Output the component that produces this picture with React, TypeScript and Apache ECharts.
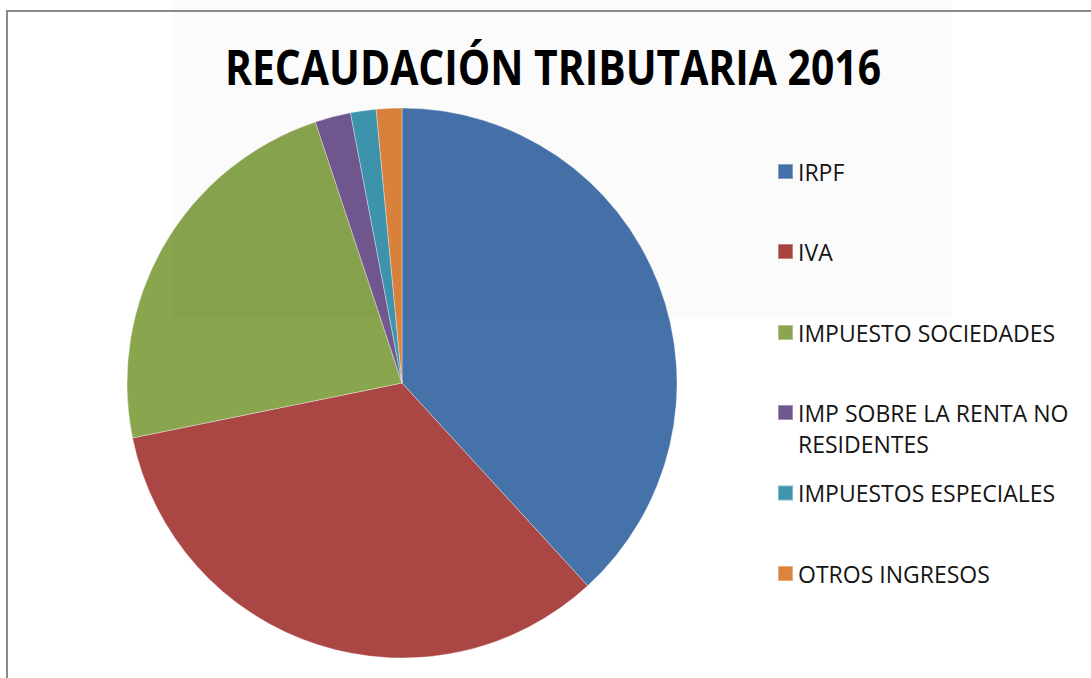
import { useEffect, useRef } from "react";
import * as echarts from "echarts";

const titleText = "RECAUDACIÓN TRIBUTARIA 2016";
const categories = [
  "IRPF",
  "IVA",
  "IMPUESTO SOCIEDADES",
  "IMP SOBRE LA RENTA NO RESIDENTES",
  "IMPUESTOS ESPECIALES",
  "OTROS INGRESOS",
];
const values = [38.2, 33.6, 23.1, 2.1, 1.5, 1.5];
const colors = ["#4672AA", "#AA4644", "#89A54E", "#71588F", "#3D96AE", "#DB843D"];

// layout (legend row centres, px)
const legendRowY = [171.5, 251.5, 332.5, 412.5, 493, 573.5];
const MULTI = "IMP SOBRE LA RENTA NO RESIDENTES";

function measure(text: string, font: string): number {
  const c = document.createElement("canvas").getContext("2d");
  if (!c) return 1;
  c.font = font;
  return c.measureText(text).width;
}

export default function App() {
  const ref = useRef<HTMLDivElement>(null);
  useEffect(() => {
    if (!ref.current) return;
    const chart = echarts.init(ref.current, null, { renderer: "svg" });
    const titleFont = 'bold 48px "Open Sans"';
    const tw = measure(titleText, titleFont);
    const titleScale = 656 / tw;

    const legends = categories.map((name, i) => {
      const multi = name === MULTI;
      const c = legendRowY[i];
      const base: any = {
        data: [name],
        orient: "vertical",
        left: 777,
        top: multi ? c - 46.5 : c - 15.5,
        padding: 0,
        itemWidth: 15,
        itemHeight: 15,
        itemGap: 0,
        icon: "rect",
        selectedMode: false,
        textStyle: {
          fontFamily: "Open Sans",
          fontSize: 23,
          color: "#141414",
          lineHeight: 31,
        },
      };
      if (multi) base.formatter = () => "\nIMP SOBRE LA RENTA NO\nRESIDENTES";
      return base;
    });

    chart.setOption({
      animation: false,
      backgroundColor: "#ffffff",
      legend: legends,
      graphic: [
        {
          type: "rect",
          z: 100,
          silent: true,
          shape: { x: 172, y: 0, width: 780, height: 318 },
          style: { fill: "rgba(0,0,0,0.015)" },
        },
        {
          type: "text",
          z: 110,
          x: 553,
          y: 66,
          scaleX: titleScale,
          style: {
            text: titleText,
            font: titleFont,
            fill: "#000000",
            textAlign: "center",
            textVerticalAlign: "middle",
          },
        },
        {
          type: "rect",
          z: 120,
          silent: true,
          shape: { x: 7, y: 11, width: 1300, height: 900 },
          style: { fill: "none", stroke: "#8a8a8a", lineWidth: 2 },
        },
      ],
      series: [
        {
          type: "pie",
          center: [402, 383],
          radius: 275,
          startAngle: 90,
          clockwise: true,
          label: { show: false },
          labelLine: { show: false },
          emphasis: { disabled: true },
          itemStyle: { borderColor: "rgba(255,255,255,0.35)", borderWidth: 1 },
          data: categories.map((name, i) => ({
            name,
            value: values[i],
            itemStyle: { color: colors[i] },
          })),
        },
      ],
    });
    return () => chart.dispose();
  }, []);
  return (
    <div
      ref={ref}
      style={{ position: "fixed", left: 0, top: 0, width: 1091, height: 678 }}
    />
  );
}
